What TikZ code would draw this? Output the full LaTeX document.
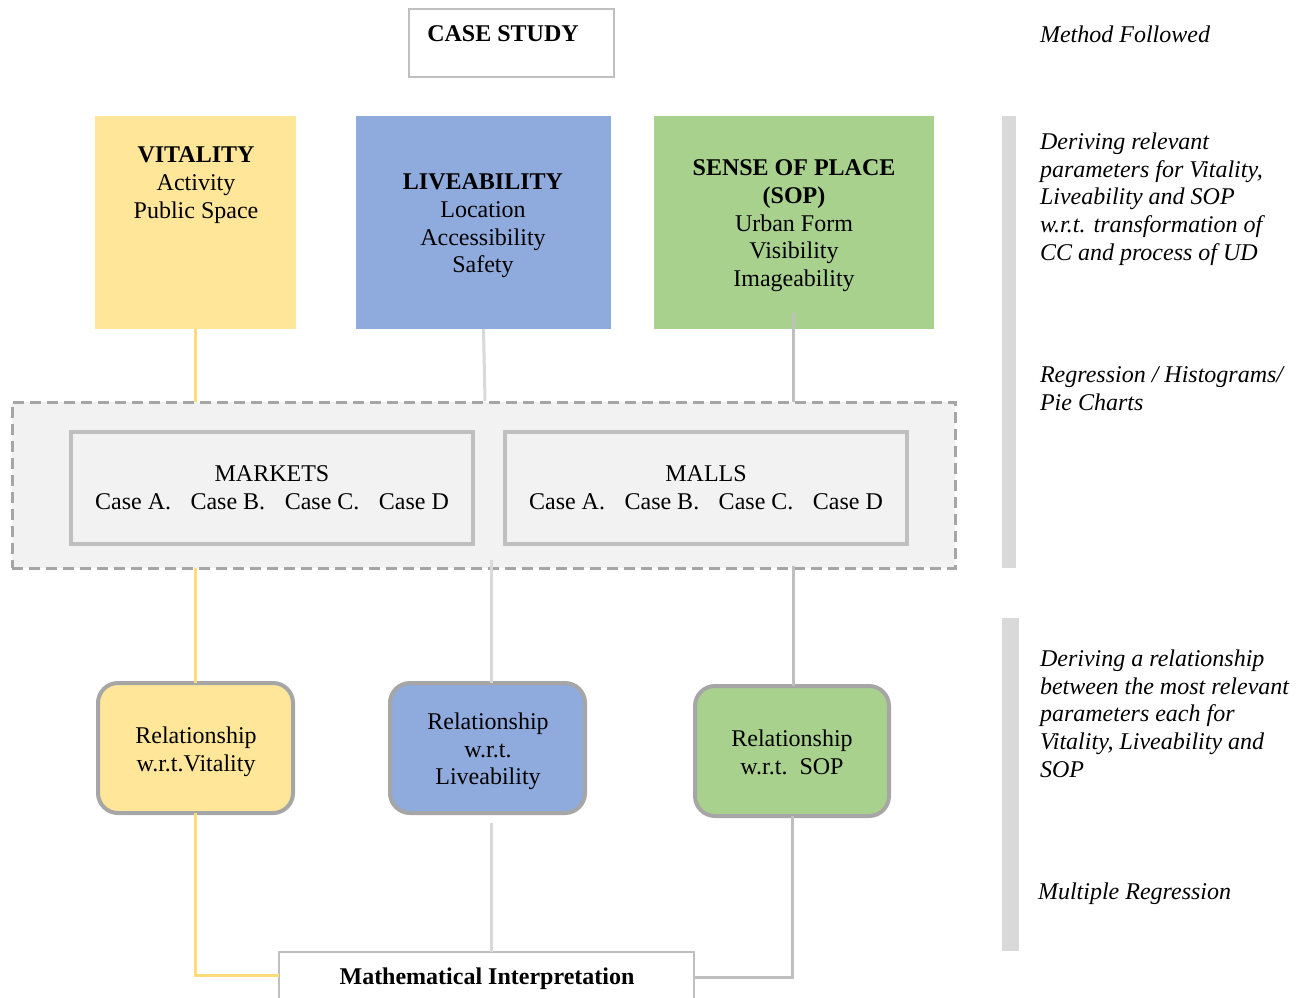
\documentclass[tikz,border=0pt]{standalone}
\usepackage{fontspec}
\setmainfont{Liberation Serif}
\definecolor{vityel}{HTML}{FFE699}
\definecolor{vitline}{HTML}{FFDC7A}
\definecolor{livblue}{HTML}{8FAADC}
\definecolor{sopgreen}{HTML}{A9D18E}
\definecolor{barg}{HTML}{D9D9D9}
\definecolor{midg}{HTML}{BFBFBF}
\definecolor{darkg}{HTML}{A6A6A6}
\definecolor{paleg}{HTML}{F2F2F2}
\newcommand{\casegap}{\hspace{19.5pt}}
\begin{document}
\begin{tikzpicture}[x=1pt,y=-1pt,
  every node/.style={inner sep=0pt,outer sep=0pt},
  txt/.style={font=\fontsize{24}{27.6}\selectfont,align=center,anchor=north},
  side/.style={font=\fontsize{24}{27.6}\selectfont\itshape,align=left,anchor=north west},
  parambox/.style={anchor=north west},
  casebox/.style={anchor=north west,draw=midg,line width=4pt,fill=paleg},
  relbox/.style={anchor=north west,draw=darkg,line width=4pt,rounded corners=20pt},
  plainbox/.style={anchor=north west,draw=midg,line width=2pt,fill=white},
  yline/.style={draw=vitline,line width=3pt},
  lline/.style={draw=barg,line width=3pt},
  gline/.style={draw=midg,line width=3pt},
  sidebar/.style={fill=barg}]
\useasboundingbox (0,0) rectangle (1305,997);

% ---- heading ----
\node[plainbox,minimum width=205pt,minimum height=68pt] (cs) at (409,9) {};
\node[txt,font=\fontsize{24}{27.6}\selectfont\bfseries] (csT) at (503,26) {CASE STUDY};
\node[side] (method) at (1040,26) {Method Followed};

% ---- parameter boxes ----
\node[parambox,fill=vityel,minimum width=201pt,minimum height=213pt] (vit) at (95,116) {};
\node[parambox,fill=livblue,minimum width=255pt,minimum height=213pt] (liv) at (356,116) {};
\node[parambox,fill=sopgreen,minimum width=280pt,minimum height=213pt] (sop) at (654,116) {};

\node[txt] (vitT) at (196,147) {\textbf{VITALITY}\\Activity\\Public Space};
\node[txt] (livT) at (483,174) {\textbf{LIVEABILITY}\\Location\\Accessibility\\Safety};
\node[txt] (sopT) at (794,160) {\textbf{SENSE OF PLACE}\\\textbf{(SOP)}\\Urban Form\\Visibility\\Imageability};

% ---- case study group ----
\node[anchor=north west,draw=darkg,dashed,dash pattern=on 11pt off 6pt,line width=3pt,fill=paleg,
      minimum width=943pt,minimum height=166pt] (grp) at (12,402) {};
\node[casebox,minimum width=402pt,minimum height=112pt] (mkt) at (71,432) {};
\node[casebox,minimum width=402pt,minimum height=112pt] (mall) at (505,432) {};
\node[txt] (mktT) at (272,466) {MARKETS\\Case A.\casegap Case B.\casegap Case C.\casegap Case D};
\node[txt] (mallT) at (706,466) {MALLS\\Case A.\casegap Case B.\casegap Case C.\casegap Case D};

% ---- relationship boxes ----
\node[relbox,fill=vityel,minimum width=195pt,minimum height=130pt] (rv) at (98,683) {};
\node[relbox,fill=livblue,minimum width=195pt,minimum height=130pt] (rl) at (390,683) {};
\node[relbox,fill=sopgreen,minimum width=194pt,minimum height=130pt] (rs) at (695,686) {};
\node[txt] (rvT) at (196,727) {Relationship\\w.r.t.Vitality};
\node[txt] (rlT) at (488,713) {Relationship\\w.r.t.\\Liveability};
\node[txt] (rsT) at (792,730) {Relationship\\w.r.t.\ \ SOP};

% ---- final box ----
\node[plainbox,minimum width=415pt,minimum height=60pt] (math) at (279,952) {};
\node[txt,font=\fontsize{24}{27.6}\selectfont\bfseries] (mathT) at (487,968) {Mathematical Interpretation};

% ---- connectors ----
\coordinate (livFoot) at (485,401);
\coordinate (sopHead) at (793,313);
\coordinate (grpL) at (491,560);
\coordinate (grpR) at (793,566);
\coordinate (rlFoot) at (491,823);

\draw[yline] (vit.south) -- (vit.south |- grp.north);
\draw[lline] (liv.south) -- (livFoot);
\draw[gline] (sopHead) -- (sopHead |- grp.north);

\draw[yline] (vit.south |- grp.south) -- (rv.north);
\draw[lline] (grpL) -- (grpL |- rl.north);
\draw[gline] (grpR) -- (grpR |- rs.north);

\draw[yline] (rv.south) |- ([yshift=-23pt]math.north west);
\draw[lline] (rlFoot) -- (rlFoot |- math.north);
\draw[gline] (rs.south) |- ([yshift=-25pt]math.north east);

% ---- method column ----
\fill[sidebar] (1002,116) rectangle (1016,568);
\fill[sidebar] (1002,618) rectangle (1019,951);
\node[side] (m1) at (1040,133) {Deriving relevant\\parameters for Vitality,\\Liveability and SOP\\w.r.t. transformation of\\CC and process of UD};
\node[side] (m2) at (1040,367) {Regression / Histograms/\\Pie Charts};
\node[side] (m3) at (1040,650) {Deriving a relationship\\between the most relevant\\parameters each for\\Vitality, Liveability and\\SOP};
\node[side] (m4) at (1038,883) {Multiple Regression};
\end{tikzpicture}
\end{document}
